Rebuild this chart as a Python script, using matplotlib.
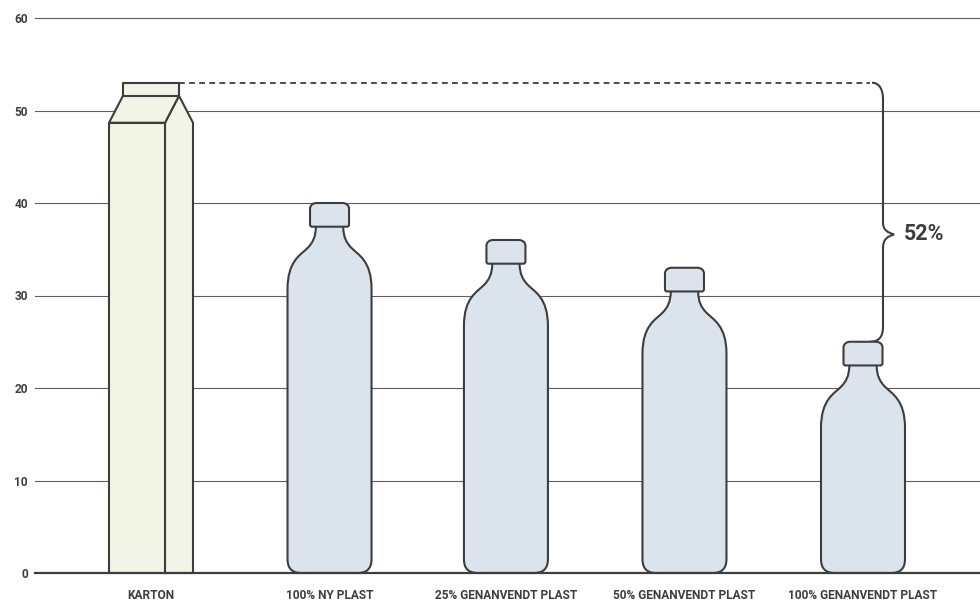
import matplotlib
matplotlib.use("Agg")
import matplotlib.pyplot as plt
from matplotlib.patches import PathPatch, Polygon
from matplotlib.path import Path

labels = ["KARTON", "100% NY PLAST", "25% GENANVENDT PLAST", "50% GENANVENDT PLAST", "100% GENANVENDT PLAST"]
values = [53, 40, 36, 33, 25]
positions = [0, 1.003, 1.994, 2.997, 4]
y_ticks = [0, 10, 20, 30, 40, 50, 60]
pct_label = "52%"

dark = "#3d3d3d"
bottle_col = "#dbe3ed"
carton_col = "#f2f4e6"
lw = 1.5

W, H = 980, 601
LEFT, TOP, BASE = 35, 18, 573
PX_X = 178.0                    # pixels per category
PX_Y = (BASE - TOP) / 60.0      # pixels per unit

plt.rcParams["font.family"] = ["Roboto", "DejaVu Sans"]

fig = plt.figure(figsize=(W / 100, H / 100), dpi=100)
ax = fig.add_axes([LEFT / W, (H - BASE) / H, (W - LEFT) / W, (BASE - TOP) / H])
ax.set_xlim((LEFT - 151) / PX_X, (W - 151) / PX_X)
ax.set_ylim(0, 60)


def to_data(xc, top, dx, dy):
    # offsets in pixels from the top centre of a shape
    return (xc + dx / PX_X, top - dy / PX_Y)


def bottle(xc, val):
    h = val * PX_Y
    hw = 42
    r = 14
    neck = 13.7
    cap = 19.5
    cap_h = 23.7
    verts, codes = [], []

    def add(code, *pts):
        for p in pts:
            verts.append(to_data(xc, val, p[0], p[1]))
            codes.append(code)

    add(Path.MOVETO, (-neck, cap_h))
    add(Path.CURVE4, (-neck, 34), (-17, 40), (-22, 45))
    add(Path.CURVE4, (-29, 52), (-hw, 58), (-hw, 86))
    add(Path.LINETO, (-hw, h - r))
    add(Path.CURVE4, (-hw, h - 4), (-hw + 5, h), (-hw + r, h))
    add(Path.LINETO, (hw - r, h))
    add(Path.CURVE4, (hw - 5, h), (hw, h - 4), (hw, h - r))
    add(Path.LINETO, (hw, 86))
    add(Path.CURVE4, (hw, 58), (29, 52), (22, 45))
    add(Path.CURVE4, (17, 40), (neck, 34), (neck, cap_h))
    ax.add_patch(PathPatch(Path(verts, codes), fc=bottle_col, ec=dark, lw=lw, zorder=3, clip_on=False))

    # cap
    verts, codes = [], []
    add(Path.MOVETO, (-cap + 2, cap_h))
    add(Path.CURVE4, (-cap + 1, cap_h), (-cap, cap_h - 1), (-cap, cap_h - 2))
    add(Path.LINETO, (-cap, 6))
    add(Path.CURVE4, (-cap, 2), (-cap + 3, 0), (-cap + 7, 0))
    add(Path.LINETO, (cap - 7, 0))
    add(Path.CURVE4, (cap - 3, 0), (cap, 2), (cap, 6))
    add(Path.LINETO, (cap, cap_h - 2))
    add(Path.CURVE4, (cap, cap_h - 1), (cap - 1, cap_h), (cap - 2, cap_h))
    add(Path.CLOSEPOLY, (-cap + 2, cap_h))
    ax.add_patch(PathPatch(Path(verts, codes), fc=bottle_col, ec=dark, lw=lw, zorder=4, clip_on=False))


def carton(xc, val):
    h = val * PX_Y
    pts = lambda lst: [to_data(xc, val, a, b) for a, b in lst]
    side = [(14, 40), (28, 13), (42, 40), (42, h), (14, h)]
    front = [(-42, 40), (14, 40), (14, h), (-42, h)]
    slope = [(-42, 40), (-28, 13), (28, 13), (14, 40)]
    flap = [(-28, 0), (28, 0), (28, 13), (-28, 13)]
    for shape in [side, slope, flap, front]:
        ax.add_patch(Polygon(pts(shape), closed=True, fc=carton_col, ec=dark, lw=lw, zorder=3,
                             joinstyle="round", clip_on=False))


for xc, val, name in zip(positions, values, labels):
    if name == "KARTON":
        carton(xc, val)
    else:
        bottle(xc, val)

# dashed line from carton top to the bracket
x_start = positions[0] + 28 / PX_X
x_br = positions[4] + 20 / PX_X
ax.plot([x_start, x_br - 13 / PX_X], [values[0], values[0]], color=dark, lw=1.3,
        dashes=(3.2, 2.4), zorder=2)

# bracket
y_mid = 36.6
def bx(d):
    return x_br + d / PX_X
def by(val, d):
    return val - d / PX_Y
br_verts = [
    (bx(-11), by(values[0], 0)),
    (bx(-4), by(values[0], 0)), (bx(0), by(values[0], 6)), (bx(0), by(values[0], 17)),
    (bx(0), by(y_mid, -12)),
    (bx(0), by(y_mid, -4)), (bx(5), by(y_mid, -2)), (bx(11), by(y_mid, 0)),
    (bx(5), by(y_mid, 2)), (bx(0), by(y_mid, 4)), (bx(0), by(y_mid, 14)),
    (bx(0), by(values[4], -15)),
    (bx(0), by(values[4], -5)), (bx(-4), by(values[4], 0)), (bx(-13), by(values[4], 0)),
]
br_codes = [Path.MOVETO, Path.CURVE4, Path.CURVE4, Path.CURVE4, Path.LINETO,
            Path.CURVE4, Path.CURVE4, Path.CURVE4, Path.CURVE4, Path.CURVE4, Path.CURVE4,
            Path.LINETO, Path.CURVE4, Path.CURVE4, Path.CURVE4]
ax.add_patch(PathPatch(Path(br_verts, br_codes), fc="none", ec=dark, lw=lw, zorder=2))
ax.text(bx(21), y_mid, pct_label, fontsize=15.5, fontweight="bold", color=dark,
        va="center", ha="left")

# axes
for s in ax.spines.values():
    s.set_visible(False)
ax.set_yticks(y_ticks)
ax.set_xticks(positions)
ax.set_xticklabels(labels, fontsize=8.6, fontweight="bold", color=dark)
ax.tick_params(axis="x", length=0, pad=11.3)
ax.tick_params(axis="y", length=0, pad=5, labelsize=8.6, labelcolor=dark)
for t in ax.get_yticklabels():
    t.set_fontweight("bold")
for v in y_ticks[1:]:
    ax.axhline(v, color="#5c5c5c", lw=0.8, zorder=1, clip_on=False)
ax.axhline(0, color=dark, lw=1.6, zorder=5, clip_on=False)

fig.savefig("out.png", dpi=100)
